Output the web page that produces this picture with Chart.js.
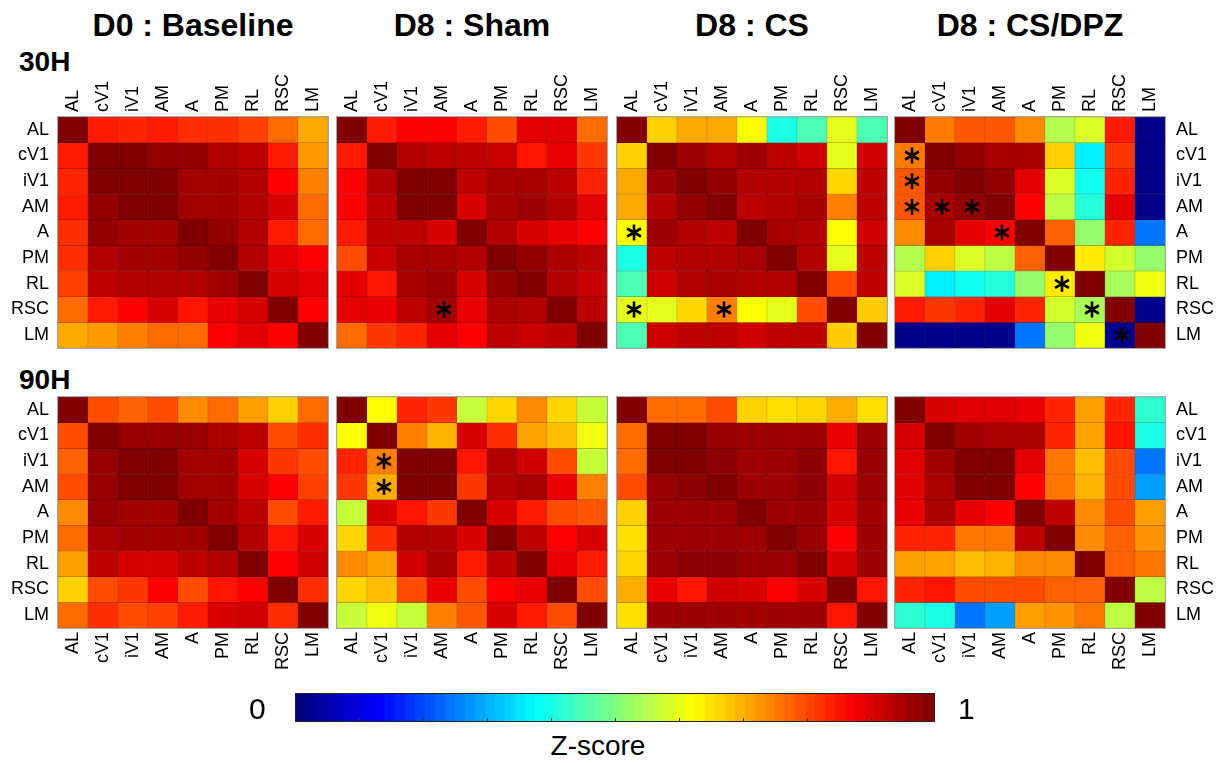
<!DOCTYPE html>
<html>
<head>
<meta charset="utf-8">
<script src="https://cdn.jsdelivr.net/npm/chart.js@4.4.1/dist/chart.umd.min.js"></script>
<style>
  body { margin: 0; background: #fff; width: 1225px; height: 763px; position: relative; overflow: hidden;
         font-family: "Liberation Sans", Arial, sans-serif; color: #000; }
  canvas { position: absolute; }
  .title { position: absolute; top: 9px; width: 300px; text-align: center; font-weight: bold; font-size: 32px; line-height: 32px; }
  .hour { position: absolute; left: 19px; font-weight: bold; font-size: 28px; line-height: 28px; }
  .cb { position: absolute; font-size: 30px; line-height: 30px; }
</style>
</head>
<body>
<div class="title" style="left:43px">D0 : Baseline</div>
<div class="title" style="left:322px">D8 : Sham</div>
<div class="title" style="left:602px">D8 : CS</div>
<div class="title" style="left:880px">D8 : CS/DPZ</div>
<div class="hour" style="top:48px">30H</div>
<div class="hour" style="top:366px">90H</div>

<canvas id="p30a" width="329" height="299" style="left:0px;top:50px"></canvas>
<canvas id="p30b" width="272" height="299" style="left:336px;top:50px"></canvas>
<canvas id="p30c" width="272" height="299" style="left:616px;top:50px"></canvas>
<canvas id="p30d" width="331" height="299" style="left:894px;top:50px"></canvas>
<canvas id="p90a" width="329" height="297" style="left:0px;top:396px"></canvas>
<canvas id="p90b" width="272" height="297" style="left:336px;top:396px"></canvas>
<canvas id="p90c" width="272" height="297" style="left:616px;top:396px"></canvas>
<canvas id="p90d" width="331" height="297" style="left:894px;top:396px"></canvas>

<canvas id="cbar" width="640" height="29" style="left:295px;top:693px"></canvas>
<div class="cb" style="left:249px;top:694px">0</div>
<div class="cb" style="left:958px;top:694px">1</div>
<div class="cb" style="left:498px;top:731px;width:200px;text-align:center;font-size:28px">Z-score</div>

<script>
const areas = ['AL', 'cV1', 'iV1', 'AM', 'A', 'PM', 'RL', 'RSC', 'LM'];

// 30H
const base30 = [
  [1.00, 0.85, 0.84, 0.85, 0.83, 0.83, 0.81, 0.77, 0.71],
  [0.85, 1.00, 1.00, 0.98, 0.98, 0.95, 0.94, 0.85, 0.725],
  [0.84, 1.00, 1.00, 1.00, 0.965, 0.965, 0.95, 0.875, 0.75],
  [0.85, 0.98, 1.00, 1.00, 0.965, 0.965, 0.95, 0.91, 0.77],
  [0.83, 0.98, 0.965, 0.965, 1.00, 0.98, 0.95, 0.85, 0.77],
  [0.83, 0.95, 0.965, 0.965, 0.98, 1.00, 0.95, 0.90, 0.875],
  [0.81, 0.94, 0.95, 0.95, 0.95, 0.965, 1.00, 0.915, 0.90],
  [0.77, 0.85, 0.875, 0.91, 0.855, 0.895, 0.915, 1.00, 0.875],
  [0.71, 0.725, 0.75, 0.77, 0.77, 0.875, 0.90, 0.875, 1.00]
];
const sham30 = [
  [1.00, 0.85, 0.875, 0.875, 0.85, 0.80, 0.90, 0.90, 0.77],
  [0.85, 1.00, 0.95, 0.94, 0.94, 0.93, 0.855, 0.895, 0.82],
  [0.875, 0.95, 1.00, 1.00, 0.94, 0.96, 0.96, 0.94, 0.84],
  [0.875, 0.94, 1.00, 1.00, 0.91, 0.96, 0.97, 0.95, 0.90],
  [0.85, 0.94, 0.94, 0.91, 1.00, 0.95, 0.91, 0.895, 0.875],
  [0.80, 0.93, 0.96, 0.96, 0.95, 1.00, 0.98, 0.955, 0.94],
  [0.90, 0.855, 0.96, 0.97, 0.91, 0.98, 1.00, 0.95, 0.93],
  [0.90, 0.895, 0.94, 0.965, 0.895, 0.955, 0.95, 1.00, 0.94],
  [0.77, 0.82, 0.84, 0.90, 0.875, 0.94, 0.93, 0.94, 1.00]
];
const cs30 = [
  [1.00, 0.67, 0.71, 0.71, 0.625, 0.40, 0.45, 0.60, 0.45],
  [0.67, 1.00, 0.97, 0.95, 0.97, 0.94, 0.92, 0.60, 0.92],
  [0.71, 0.97, 1.00, 0.98, 0.95, 0.95, 0.95, 0.665, 0.94],
  [0.71, 0.95, 0.98, 1.00, 0.94, 0.95, 0.96, 0.75, 0.94],
  [0.625, 0.97, 0.95, 0.94, 1.00, 0.96, 0.95, 0.625, 0.92],
  [0.40, 0.94, 0.95, 0.95, 0.96, 1.00, 0.95, 0.60, 0.94],
  [0.45, 0.92, 0.95, 0.96, 0.95, 0.95, 1.00, 0.80, 0.94],
  [0.60, 0.60, 0.665, 0.75, 0.625, 0.60, 0.80, 1.00, 0.675],
  [0.45, 0.92, 0.94, 0.94, 0.92, 0.94, 0.94, 0.675, 1.00]
];
const dpz30 = [
  [1.00, 0.755, 0.79, 0.79, 0.74, 0.55, 0.59, 0.85, 0.01],
  [0.755, 1.00, 0.98, 0.96, 0.96, 0.67, 0.36, 0.82, 0.01],
  [0.79, 0.98, 1.00, 0.98, 0.90, 0.59, 0.39, 0.84, 0.01],
  [0.79, 0.96, 0.98, 1.00, 0.875, 0.56, 0.41, 0.90, 0.01],
  [0.74, 0.96, 0.90, 0.875, 1.00, 0.78, 0.52, 0.84, 0.24],
  [0.55, 0.67, 0.59, 0.56, 0.78, 1.00, 0.645, 0.58, 0.52],
  [0.59, 0.36, 0.39, 0.41, 0.52, 0.645, 1.00, 0.54, 0.61],
  [0.85, 0.82, 0.84, 0.90, 0.84, 0.58, 0.54, 1.00, 0.01],
  [0.01, 0.01, 0.01, 0.01, 0.24, 0.52, 0.61, 0.01, 1.00]
];

// 90H
const base90 = [
  [1.00, 0.80, 0.78, 0.80, 0.74, 0.77, 0.72, 0.67, 0.77],
  [0.80, 1.00, 0.975, 0.975, 0.975, 0.955, 0.94, 0.80, 0.83],
  [0.78, 0.975, 1.00, 1.00, 0.965, 0.965, 0.91, 0.82, 0.80],
  [0.80, 0.975, 1.00, 1.00, 0.965, 0.965, 0.91, 0.875, 0.81],
  [0.74, 0.975, 0.965, 0.965, 1.00, 0.965, 0.94, 0.80, 0.85],
  [0.77, 0.955, 0.965, 0.965, 0.965, 1.00, 0.95, 0.855, 0.91],
  [0.72, 0.94, 0.91, 0.91, 0.94, 0.95, 1.00, 0.875, 0.92],
  [0.67, 0.80, 0.82, 0.875, 0.80, 0.855, 0.875, 1.00, 0.83],
  [0.77, 0.83, 0.80, 0.81, 0.85, 0.91, 0.92, 0.83, 1.00]
];
const sham90 = [
  [1.00, 0.625, 0.84, 0.82, 0.57, 0.665, 0.74, 0.665, 0.57],
  [0.625, 1.00, 0.75, 0.70, 0.91, 0.83, 0.715, 0.69, 0.61],
  [0.84, 0.75, 1.00, 1.00, 0.855, 0.95, 0.92, 0.80, 0.57],
  [0.82, 0.705, 1.00, 1.00, 0.82, 0.95, 0.96, 0.895, 0.75],
  [0.57, 0.91, 0.855, 0.82, 1.00, 0.91, 0.85, 0.80, 0.79],
  [0.665, 0.83, 0.95, 0.95, 0.91, 1.00, 0.94, 0.875, 0.91],
  [0.74, 0.72, 0.92, 0.96, 0.85, 0.94, 1.00, 0.895, 0.85],
  [0.665, 0.69, 0.80, 0.895, 0.80, 0.875, 0.895, 1.00, 0.80],
  [0.57, 0.61, 0.57, 0.75, 0.79, 0.91, 0.85, 0.80, 1.00]
];
const cs90 = [
  [1.00, 0.77, 0.77, 0.80, 0.67, 0.655, 0.665, 0.705, 0.655],
  [0.77, 1.00, 1.00, 0.975, 0.97, 0.97, 0.97, 0.895, 0.97],
  [0.77, 1.00, 1.00, 0.985, 0.97, 0.97, 0.985, 0.855, 0.975],
  [0.80, 0.975, 0.985, 1.00, 0.97, 0.97, 0.985, 0.92, 0.97],
  [0.67, 0.97, 0.97, 0.97, 1.00, 0.97, 0.975, 0.91, 0.965],
  [0.655, 0.97, 0.97, 0.97, 0.97, 1.00, 0.975, 0.875, 0.97],
  [0.665, 0.97, 0.985, 0.985, 0.975, 0.975, 1.00, 0.91, 0.97],
  [0.705, 0.895, 0.855, 0.92, 0.91, 0.875, 0.91, 1.00, 0.855],
  [0.655, 0.97, 0.975, 0.97, 0.965, 0.97, 0.97, 0.855, 1.00]
];
const dpz90 = [
  [1.00, 0.91, 0.905, 0.905, 0.895, 0.84, 0.72, 0.84, 0.42],
  [0.91, 1.00, 0.965, 0.955, 0.955, 0.84, 0.715, 0.855, 0.40],
  [0.905, 0.965, 1.00, 1.00, 0.90, 0.76, 0.69, 0.80, 0.24],
  [0.905, 0.955, 1.00, 1.00, 0.875, 0.76, 0.70, 0.80, 0.28],
  [0.895, 0.955, 0.90, 0.875, 1.00, 0.94, 0.74, 0.80, 0.72],
  [0.84, 0.84, 0.76, 0.76, 0.94, 1.00, 0.74, 0.78, 0.73],
  [0.72, 0.715, 0.69, 0.70, 0.74, 0.74, 1.00, 0.78, 0.76],
  [0.84, 0.855, 0.80, 0.80, 0.80, 0.78, 0.78, 1.00, 0.56],
  [0.42, 0.40, 0.24, 0.28, 0.72, 0.73, 0.76, 0.56, 1.00]
];

// significant cells, [row, col]
const stars30Sham = [[7, 3]];
const stars30CS = [[4, 0], [7, 0], [7, 3]];
const stars30DPZ = [[1, 0], [2, 0], [3, 0], [3, 1], [3, 2], [4, 3], [6, 5], [7, 6], [8, 7]];
const stars90Sham = [[2, 1], [3, 1]];

const cbLevels = Array.from({ length: 64 }, (_, i) => i / 63);
const cbTicks = [0.1, 0.2, 0.3, 0.4, 0.5, 0.6, 0.7, 0.8, 0.9];

function jetRGB(v) {
  const c = t => Math.round(255 * Math.max(0, Math.min(1, t)));
  return [c(1.5 - Math.abs(4 * v - 3)), c(1.5 - Math.abs(4 * v - 2)), c(1.5 - Math.abs(4 * v - 1))];
}
const jet = v => 'rgb(' + jetRGB(v).join(',') + ')';
const jetDark = v => 'rgb(' + jetRGB(v).map(k => Math.round(k * 0.6)).join(',') + ')';

const FONT = { family: '"Liberation Sans", Arial, sans-serif', size: 18, lineHeight: 1.2 };

const starPlugin = {
  id: 'stars',
  afterDatasetsDraw(chart, args, opts) {
    const { ctx, chartArea: a } = chart;
    const x = chart.scales.x, y = chart.scales.y;
    ctx.save();
    ctx.strokeStyle = '#a8a8a8';
    ctx.lineWidth = 1;
    ctx.strokeRect(a.left - 0.5, a.top - 0.5, a.width + 1, a.height + 1);
    ctx.strokeStyle = '#000';
    ctx.lineWidth = 2.6;
    (opts.cells || []).forEach(([r, c]) => {
      const cx = x.getPixelForValue(c) + 2;
      const cy = y.getPixelForValue(r + 0.5);
      [90, 30, 150].forEach(deg => {
        const dx = 8 * Math.cos(deg * Math.PI / 180), dy = 8 * Math.sin(deg * Math.PI / 180);
        ctx.beginPath();
        ctx.moveTo(cx - dx, cy - dy);
        ctx.lineTo(cx + dx, cy + dy);
        ctx.stroke();
      });
    });
    ctx.restore();
  }
};

function heatmap(id, values, stars, o) {
  new Chart(document.getElementById(id), {
    type: 'bar',
    data: {
      labels: areas,
      datasets: values.map((row, r) => ({
        data: row.map(() => [r, r + 1]),
        backgroundColor: row.map(jet),
        borderColor: row.map(jetDark),
        borderWidth: 0.5,
        borderSkipped: false,
        grouped: false,
        barPercentage: 1,
        categoryPercentage: 1
      }))
    },
    options: {
      responsive: false,
      animation: false,
      events: [],
      layout: { padding: o.pad },
      plugins: { legend: { display: false }, tooltip: { enabled: false }, stars: { cells: stars } },
      scales: {
        x: {
          position: o.xPos,
          grid: { display: false, drawTicks: false },
          border: { display: false },
          ticks: { minRotation: 90, maxRotation: 90, autoSkip: false, padding: o.xPadding,
                   labelOffset: o.xShift, color: '#000', font: FONT },
          afterFit: s => { s.height = o.xH; s.paddingLeft = 0; s.paddingRight = 0; }
        },
        y: {
          display: !!o.yPos,
          position: o.yPos || 'left',
          min: 0, max: 9, reverse: true,
          grid: { display: false, drawTicks: false },
          border: { display: false },
          afterBuildTicks: s => { s.ticks = areas.map((a, i) => ({ value: i + 0.5 })); },
          ticks: { callback: (v, i) => areas[i], padding: o.yPad || 9, color: '#000', font: FONT },
          afterFit: s => { s.width = o.yW || 0; s.paddingTop = 0; s.paddingBottom = 0; }
        }
      }
    },
    plugins: [starPlugin]
  });
}

// rotated labels on a top axis sit one line height left of the column, so push them back
const topRow = { xPos: 'top', xH: 67, xPadding: 5, xShift: 21.6 };
const botRow = { xPos: 'bottom', xH: 65, xPadding: 4, xShift: 0 };
heatmap('p30a', base30, [], { ...topRow, yPos: 'left', yW: 58, yPad: 9, pad: { left: 0, right: 1, top: 0, bottom: 1 } });
heatmap('p30b', sham30, stars30Sham, { ...topRow, pad: { left: 1, right: 1, top: 0, bottom: 1 } });
heatmap('p30c', cs30, stars30CS, { ...topRow, pad: { left: 1, right: 1, top: 0, bottom: 1 } });
heatmap('p30d', dpz30, stars30DPZ, { ...topRow, yPos: 'right', yW: 60, yPad: 11, pad: { left: 1, right: 0, top: 0, bottom: 1 } });
heatmap('p90a', base90, [], { ...botRow, yPos: 'left', yW: 58, yPad: 9, pad: { left: 0, right: 1, top: 1, bottom: 0 } });
heatmap('p90b', sham90, stars90Sham, { ...botRow, pad: { left: 1, right: 1, top: 1, bottom: 0 } });
heatmap('p90c', cs90, [], { ...botRow, pad: { left: 1, right: 1, top: 1, bottom: 0 } });
heatmap('p90d', dpz90, [], { ...botRow, yPos: 'right', yW: 60, yPad: 11, pad: { left: 1, right: 0, top: 1, bottom: 0 } });

// colorbar
new Chart(document.getElementById('cbar'), {
  type: 'bar',
  data: {
    labels: cbLevels,
    datasets: [{
      data: cbLevels.map(() => 1),
      backgroundColor: cbLevels.map(jet),
      borderWidth: 0,
      barPercentage: 1.02,
      categoryPercentage: 1
    }]
  },
  options: {
    responsive: false,
    animation: false,
    events: [],
    layout: { padding: 0 },
    plugins: { legend: { display: false }, tooltip: { enabled: false } },
    scales: { x: { display: false }, y: { display: false, min: 0, max: 1 } }
  },
  plugins: [{
    id: 'cbframe',
    afterDatasetsDraw(chart) {
      const { ctx, chartArea: a } = chart;
      ctx.save();
      ctx.strokeStyle = '#333';
      ctx.lineWidth = 1;
      cbTicks.forEach(t => {
        const px = Math.round(a.left + t * a.width) + 0.5;
        ctx.beginPath();
        ctx.moveTo(px, a.bottom);
        ctx.lineTo(px, a.bottom - 4);
        ctx.stroke();
      });
      ctx.strokeStyle = '#222';
      ctx.strokeRect(a.left + 0.5, a.top + 0.5, a.width - 1, a.height - 1);
      ctx.restore();
    }
  }]
});
</script>
</body>
</html>
